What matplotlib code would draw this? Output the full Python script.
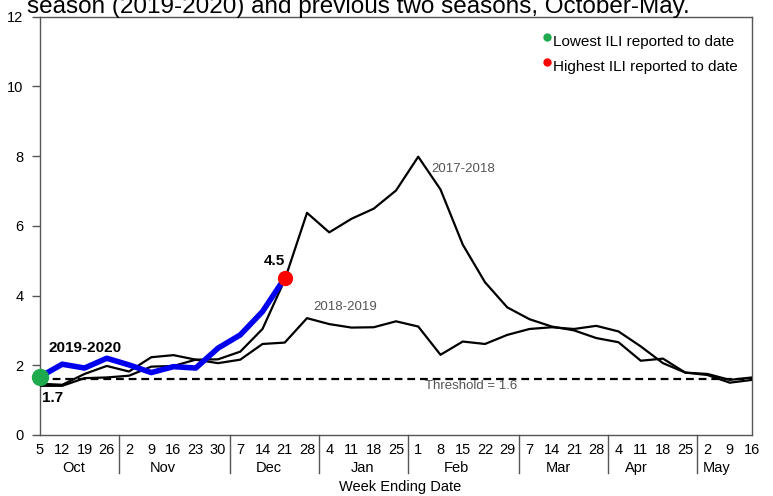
import matplotlib
matplotlib.use("Agg")
import matplotlib.pyplot as plt
from matplotlib.transforms import blended_transform_factory

plt.rcParams['font.family'] = ['Liberation Sans', 'DejaVu Sans']

# ---------------- data ----------------
week_labels = ['5', '12', '19', '26', '2', '9', '16', '23', '30', '7', '14', '21', '28',
               '4', '11', '18', '25', '1', '8', '15', '22', '29', '7', '14', '21', '28',
               '4', '11', '18', '25', '2', '9', '16']
months = ['Oct', 'Nov', 'Dec', 'Jan', 'Feb', 'Mar', 'Apr', 'May']
weeks_per_month = [4, 5, 4, 4, 5, 4, 4, 3]

ili_2019_2020 = [1.67, 2.03, 1.92, 2.20, 2.01, 1.79, 1.96, 1.92, 2.49, 2.87, 3.54, 4.50]
ili_2017_2018 = [1.41, 1.41, 1.63, 1.65, 1.70, 1.96, 1.98, 2.16, 2.17, 2.39, 3.04, 4.45,
                 6.37, 5.81, 6.20, 6.49, 7.01, 7.98, 7.04, 5.46, 4.38, 3.66, 3.32, 3.11,
                 3.00, 2.78, 2.66, 2.13, 2.19, 1.79, 1.72, 1.50, 1.58]
ili_2018_2019 = [1.47, 1.44, 1.75, 1.98, 1.82, 2.23, 2.29, 2.16, 2.06, 2.16, 2.61, 2.65,
                 3.35, 3.18, 3.08, 3.09, 3.26, 3.11, 2.30, 2.68, 2.61, 2.87, 3.04, 3.09,
                 3.04, 3.13, 2.97, 2.54, 2.06, 1.79, 1.75, 1.58, 1.65]
threshold = 1.6
y_ticks = [0, 2, 4, 6, 8, 10, 12]

# ---------------- figure ----------------
W, H = 773, 496
fig = plt.figure(figsize=(W / 100, H / 100), dpi=100)
ax = fig.add_axes([40 / W, 1 - 435 / H, (752 - 40) / W, (435 - 16.5) / H])

x_all = list(range(len(week_labels)))
x_cur = list(range(len(ili_2019_2020)))

ax.plot(x_all, ili_2017_2018, color='black', lw=1.6, zorder=3)
ax.plot(x_all, ili_2018_2019, color='black', lw=1.6, zorder=3)
ax.axhline(threshold, color='black', lw=1.6, ls=(0, (3.5, 2.2)), zorder=2)
ax.plot(x_cur, ili_2019_2020, color='#0000ee', lw=4.0, zorder=4, solid_capstyle='round')

# lowest / highest markers
ax.plot(x_cur[0], ili_2019_2020[0], 'o', color='#1faa4e', ms=11.5, zorder=6, clip_on=False)
ax.plot(x_cur[-1], ili_2019_2020[-1], 'o', color='#ff0000', ms=10, zorder=6, clip_on=False)

ax.set_xlim(0, len(week_labels) - 1)
ax.set_ylim(0, 12)
ax.set_yticks(y_ticks)
ax.set_yticklabels([str(v) for v in y_ticks], fontsize=10.5)
ax.tick_params(axis='y', length=6, width=1, color='#555555', pad=6)
ax.set_xticks(x_all)
ax.set_xticklabels(week_labels, fontsize=10.5)
ax.tick_params(axis='x', length=0, pad=6)
for s in ax.spines.values():
    s.set_color('#555555')
    s.set_linewidth(1.0)

# month separators and labels
trans = blended_transform_factory(ax.transData, ax.transAxes)
sep_depth = -38 / (435 - 16.5)
start = 0
sep_x = []
for n in weeks_per_month[:-1]:
    start += n
    sep_x.append(start - 0.45)
for sx in sep_x:
    ax.plot([sx, sx], [0, sep_depth], color='#555555', lw=1.0, transform=trans, clip_on=False)

month_pos = [1.5, 5.5, 10.3, 14.5, 18.7, 23.3, 26.8, 30.4]
month_y = -(468 - 435) / (435 - 16.5)
for m, p in zip(months, month_pos):
    ax.text(p, month_y, m, transform=trans, ha='center', va='center', fontsize=10.5)

fig.text(400 / W, 1 - 487 / H, 'Week Ending Date', ha='center', va='center', fontsize=10.5)

# annotations
ax.text(0.36, 2.39, '2019-2020', fontsize=11, fontweight='bold', ha='left', va='baseline')
ax.text(0.1, 0.95, '1.7', fontsize=11, fontweight='bold', ha='left', va='baseline')
ax.text(10.54, 4.88, '4.5', fontsize=11, fontweight='bold', ha='center', va='baseline')
ax.text(17.6, 7.64, '2017-2018', fontsize=9.5, color='#555555', ha='left', va='center')
ax.text(12.3, 3.68, '2018-2019', fontsize=9.5, color='#555555', ha='left', va='center')
ax.text(19.37, 1.41, 'Threshold = 1.6', fontsize=9.5, color='#555555', ha='center', va='center')

# legend-like notes
ax.plot([547 / W], [1 - 37 / H], 'o', color='#1faa4e', ms=5, transform=fig.transFigure, clip_on=False)
ax.plot([547 / W], [1 - 62 / H], 'o', color='#ff0000', ms=5, transform=fig.transFigure, clip_on=False)
fig.text(553 / W, 1 - 42 / H, 'Lowest ILI reported to date', fontsize=11, ha='left', va='center')
fig.text(553 / W, 1 - 67 / H, 'Highest ILI reported to date', fontsize=11, ha='left', va='center')

# title (second line, partly cut off at top)
fig.text(27 / W, 1 - 13 / H, 'season (2019-2020) and previous two seasons, October-May.',
         fontsize=17.5, ha='left', va='baseline')

fig.savefig('out.png', dpi=100)
